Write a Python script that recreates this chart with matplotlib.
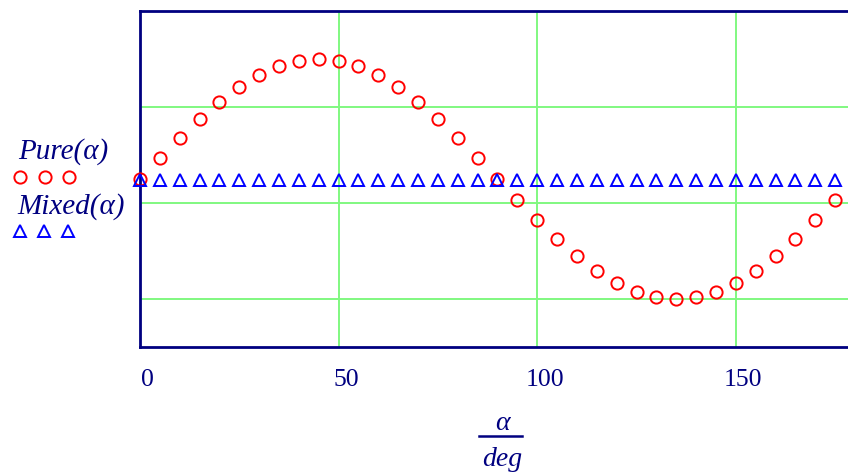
import matplotlib
matplotlib.use("Agg")
import matplotlib.pyplot as plt
import matplotlib.transforms as mtransforms

# angle in degrees
alpha = [0, 5, 10, 15, 20, 25, 30, 35, 40, 45, 50, 55, 60, 65, 70, 75, 80, 85,
         90, 95, 100, 105, 110, 115, 120, 125, 130, 135, 140, 145, 150, 155, 160, 165, 170, 175]

pure = [0.25, 0.467, 0.678, 0.875, 1.054, 1.208, 1.333, 1.425, 1.481, 1.50, 1.481, 1.425,
        1.333, 1.208, 1.054, 0.875, 0.678, 0.467, 0.25, 0.033, -0.178, -0.375, -0.554, -0.708,
        -0.833, -0.925, -0.981, -1.00, -0.981, -0.925, -0.833, -0.708, -0.554, -0.375, -0.178, 0.033]

mixed = [0.24, 0.24, 0.24, 0.24, 0.24, 0.24, 0.24, 0.24, 0.24, 0.24, 0.24, 0.24,
         0.24, 0.24, 0.24, 0.24, 0.24, 0.24, 0.24, 0.24, 0.24, 0.24, 0.24, 0.24,
         0.24, 0.24, 0.24, 0.24, 0.24, 0.24, 0.24, 0.24, 0.24, 0.24, 0.24, 0.24]

xticks = [0, 50, 100, 150]
ygrid = [-1, 0, 1]

navy = "#000080"
serif = "Liberation Serif"

W, H = 848, 474
fig = plt.figure(figsize=(W / 100, H / 100), dpi=100)
# axes extends past the right edge of the picture, like the reference crop
ax = fig.add_axes([140 / W, 1 - 347 / H, 715 / W, 336 / H])

ax.plot(alpha, pure, linestyle="none", marker="o", markersize=8.8,
        markerfacecolor="none", markeredgecolor="#ff0000", markeredgewidth=1.4, clip_on=False, zorder=3)
ax.plot(alpha, mixed, linestyle="none", marker="^", markersize=8.8,
        markerfacecolor="none", markeredgecolor="#0000ff", markeredgewidth=1.4, clip_on=False, zorder=3)

ax.set_xlim(0, 180)
ax.set_ylim(-1.5, 2)

for v in xticks[1:]:
    ax.axvline(v, color="#80f880", lw=1.4, zorder=1)
for v in ygrid:
    ax.axhline(v, color="#80f880", lw=1.4, zorder=1)

for s in ax.spines.values():
    s.set_color(navy)
    s.set_linewidth(2)
ax.spines["right"].set_visible(False)

ax.set_xticks(xticks)
ax.set_xticklabels([str(t) for t in xticks])
ax.set_yticks([])
ax.tick_params(axis="x", length=0, pad=16, labelsize=18.5, labelcolor=navy)
shift = mtransforms.ScaledTranslation(7.5 / 100, 0, fig.dpi_scale_trans)
for lab in ax.get_xticklabels():
    lab.set_fontfamily(serif)
    lab.set_transform(lab.get_transform() + shift)

# x-axis label as a fraction alpha / deg
fig.text(502 / W, 1 - 423 / H, "α", family=serif, style="italic", fontsize=20,
         color=navy, ha="center", va="center")
fig.add_artist(plt.Line2D([479 / W, 522 / W], [1 - 436 / H, 1 - 436 / H], color=navy, lw=1.8))
fig.text(502 / W, 1 - 459 / H, "deg", family=serif, style="italic", fontsize=20,
         color=navy, ha="center", va="center")

# legend on the left
fig.text(18 / W, 1 - 152 / H, "Pure(α)", family=serif, style="italic", fontsize=21,
         color=navy, ha="left", va="center")
fig.text(17 / W, 1 - 207 / H, "Mixed(α)", family=serif, style="italic", fontsize=21,
         color=navy, ha="left", va="center")
fig.add_artist(plt.Line2D([20 / W, 45 / W, 69 / W], [1 - 177 / H] * 3, linestyle="none",
                          marker="o", markersize=8.8, markerfacecolor="none",
                          markeredgecolor="#ff0000", markeredgewidth=1.4))
fig.add_artist(plt.Line2D([20 / W, 44 / W, 68 / W], [1 - 231 / H] * 3, linestyle="none",
                          marker="^", markersize=8.8, markerfacecolor="none",
                          markeredgecolor="#0000ff", markeredgewidth=1.4))

fig.savefig("out.png", dpi=100)
